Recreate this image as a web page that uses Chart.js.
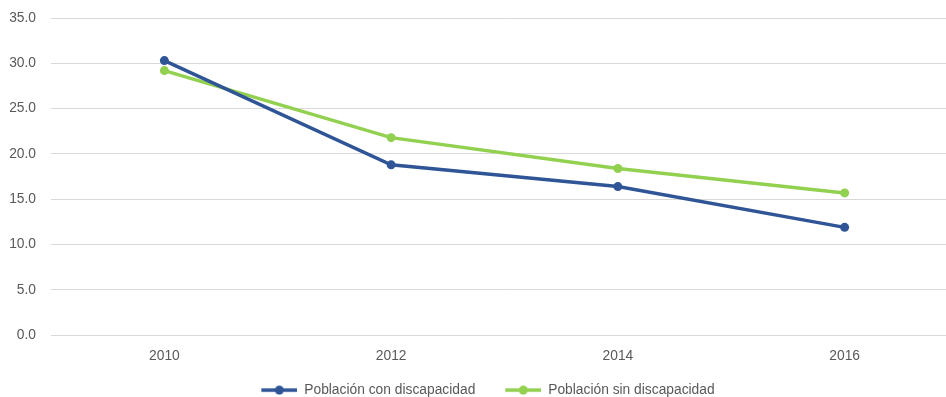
<!DOCTYPE html>
<html>
<head>
<meta charset="utf-8">
<script src="https://cdn.jsdelivr.net/npm/chart.js@4"></script>
<style>
  html, body { margin: 0; padding: 0; background: #fff; overflow: hidden; }
  #wrap { width: 980px; height: 407px; }
</style>
</head>
<body>
<div id="wrap"><canvas id="c" width="980" height="407"></canvas></div>
<script>
const years = ['2010', '2012', '2014', '2016'];
const conDiscapacidad = [30.3, 18.8, 16.4, 11.9];
const sinDiscapacidad = [29.2, 21.8, 18.4, 15.7];
const seriesNames = ['Población con discapacidad', 'Población sin discapacidad'];
const yTicks = [0, 5, 10, 15, 20, 25, 30, 35];

const BLUE = '#2F5597';
const GREEN = '#92D050';
const TEXT = '#595959';

// legend marker: short line with a dot, preceded by blank space that separates the entries
const LEAD = 18;
function lineDot(color) {
  const cv = document.createElement('canvas');
  cv.width = 36 + LEAD; cv.height = 10;
  const g = cv.getContext('2d');
  g.strokeStyle = color; g.lineWidth = 3.5;
  g.beginPath(); g.moveTo(LEAD, 5); g.lineTo(LEAD + 36, 5); g.stroke();
  g.fillStyle = color;
  g.beginPath(); g.arc(LEAD + 18, 5, 4.5, 0, Math.PI * 2); g.fill();
  return cv;
}

const font = { family: '"Liberation Sans", Arial, sans-serif', size: 13.8 };

new Chart(document.getElementById('c'), {
  type: 'line',
  data: {
    labels: years,
    datasets: [
      { label: seriesNames[0], data: conDiscapacidad, borderColor: BLUE, backgroundColor: BLUE,
        borderWidth: 3.5, pointRadius: 4.5, pointBackgroundColor: BLUE, pointBorderWidth: 0,
        pointStyle: 'circle', tension: 0, legendMarker: lineDot(BLUE) },
      { label: seriesNames[1], data: sinDiscapacidad, borderColor: GREEN, backgroundColor: GREEN,
        borderWidth: 3.5, pointRadius: 4.5, pointBackgroundColor: GREEN, pointBorderWidth: 0,
        pointStyle: 'circle', tension: 0, legendMarker: lineDot(GREEN) }
    ]
  },
  options: {
    responsive: false,
    animation: false,
    layout: { padding: { top: 18, left: 0, right: 22, bottom: 0 } },
    plugins: {
      tooltip: { enabled: false },
      legend: {
        position: 'bottom',
        labels: {
          usePointStyle: true,
          pointStyleWidth: 36 + LEAD,
          padding: 12,
          color: TEXT,
          font: font,
          generateLabels(chart) {
            return chart.data.datasets.map((ds, i) => ({
              text: ds.label,
              pointStyle: ds.legendMarker,
              fillStyle: ds.borderColor,
              strokeStyle: ds.borderColor,
              lineWidth: 0,
              fontColor: TEXT,
              hidden: false,
              datasetIndex: i
            }));
          }
        }
      }
    },
    scales: {
      x: {
        offset: true,
        grid: { display: false, drawTicks: false },
        border: { display: false },
        ticks: { color: TEXT, font: font, padding: 13 },
        afterFit(s) { s.height = 36; }
      },
      y: {
        min: 0, max: 35,
        afterBuildTicks(s) { s.ticks = yTicks.map(v => ({ value: v })); },
        grid: { color: '#D9D9D9', lineWidth: 1, drawTicks: false },
        border: { display: false },
        ticks: { color: TEXT, font: font, padding: 15, callback: v => Number(v).toFixed(1) },
        afterFit(s) { s.width = 51; s.paddingTop = 9; s.paddingBottom = 9; }
      }
    }
  }
});
</script>
</body>
</html>
